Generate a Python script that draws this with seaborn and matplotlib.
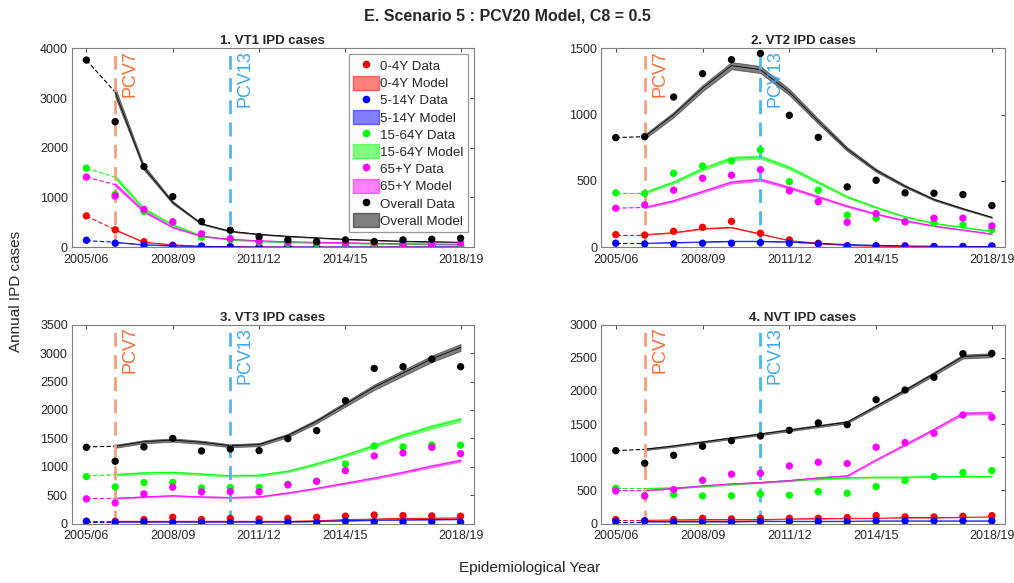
import numpy as np
import pandas as pd
import matplotlib
matplotlib.use("Agg")
from matplotlib import pyplot as plt
from matplotlib.patches import Patch
from matplotlib.lines import Line2D
import seaborn as sns

sns.set_style("white")
plt.rcParams['font.family'] = ['Liberation Sans', 'DejaVu Sans']

years = ['2005/06', '2006/07', '2007/08', '2008/09', '2009/10', '2010/11', '2011/12',
         '2012/13', '2013/14', '2014/15', '2015/16', '2016/17', '2017/18', '2018/19']
tick_years = ['2005/06', '2008/09', '2011/12', '2014/15', '2018/19']
groups = ['0-4Y', '5-14Y', '15-64Y', '65+Y', 'Overall']
colors = {'0-4Y': '#ff0000', '5-14Y': '#0000ff', '15-64Y': '#00ff00',
          '65+Y': '#ff00ff', 'Overall': '#000000'}
pcv7_year = '2006/07'
pcv13_year = '2010/11'

# 1. VT1
vt1_data = {
    '0-4Y': [630, 350, 110, 40, 20, 10, 5, 5, 5, 5, 5, 5, 5, 5],
    '5-14Y': [140, 80, 40, 30, 20, 10, 5, 5, 5, 5, 5, 5, 5, 5],
    '15-64Y': [1590, 1060, 720, 490, 200, 150, 100, 80, 70, 60, 60, 50, 50, 50],
    '65+Y': [1410, 1030, 760, 510, 270, 170, 120, 100, 90, 80, 80, 70, 70, 80],
    'Overall': [3765, 2526, 1621, 1018, 516, 342, 214, 147, 114, 147, 114, 147, 160, 180],
}
vt1_model = {
    '0-4Y': [630, 350, 100, 50, 20, 10, 5, 5, 5, 5, 5, 5, 5, 5],
    '5-14Y': [130, 100, 50, 30, 15, 10, 5, 5, 5, 5, 5, 5, 5, 5],
    '15-64Y': [1590, 1410, 770, 450, 230, 150, 120, 100, 90, 80, 70, 60, 55, 50],
    '65+Y': [1410, 1260, 720, 400, 220, 160, 130, 110, 100, 90, 80, 70, 65, 60],
    'Overall': [3765, 3120, 1600, 900, 470, 320, 260, 220, 190, 160, 140, 120, 110, 100],
}
# 2. VT2
vt2_data = {
    '0-4Y': [95, 92, 120, 150, 195, 105, 55, 30, 10, 10, 5, 5, 5, 5],
    '5-14Y': [30, 25, 25, 30, 30, 35, 30, 25, 10, 10, 10, 5, 5, 10],
    '15-64Y': [410, 405, 558, 613, 651, 734, 495, 430, 241, 219, 193, 181, 168, 131],
    '65+Y': [294, 319, 430, 520, 543, 585, 425, 344, 188, 254, 191, 219, 219, 161],
    'Overall': [827, 834, 1133, 1309, 1415, 1462, 995, 829, 455, 505, 410, 407, 397, 314],
}
vt2_model = {
    '0-4Y': [95, 95, 110, 140, 150, 100, 50, 30, 15, 10, 5, 5, 5, 3],
    '5-14Y': [30, 30, 35, 40, 45, 45, 40, 30, 20, 15, 10, 8, 5, 5],
    '15-64Y': [412, 412, 490, 590, 670, 680, 600, 490, 380, 300, 230, 180, 150, 120],
    '65+Y': [294, 300, 350, 420, 490, 510, 450, 380, 310, 250, 200, 160, 130, 100],
    'Overall': [827, 834, 1000, 1200, 1370, 1340, 1170, 950, 740, 580, 460, 360, 290, 225],
}
# 3. VT3
vt3_data = {
    '0-4Y': [40, 40, 70, 110, 70, 90, 80, 90, 110, 130, 150, 140, 135, 130],
    '5-14Y': [40, 20, 30, 20, 10, 20, 15, 20, 20, 40, 30, 30, 30, 25],
    '15-64Y': [827, 645, 721, 725, 627, 635, 635, 692, 744, 1049, 1366, 1350, 1383, 1380],
    '65+Y': [434, 363, 522, 639, 557, 560, 560, 680, 744, 932, 1190, 1243, 1342, 1231],
    'Overall': [1342, 1096, 1348, 1500, 1278, 1313, 1284, 1495, 1635, 2163, 2732, 2761, 2896, 2761],
}
vt3_model = {
    '0-4Y': [40, 40, 40, 40, 40, 40, 40, 40, 50, 70, 80, 90, 95, 100],
    '5-14Y': [30, 30, 30, 30, 30, 30, 30, 30, 40, 50, 60, 65, 70, 75],
    '15-64Y': [840, 860, 890, 900, 870, 840, 850, 920, 1050, 1200, 1370, 1550, 1700, 1830],
    '65+Y': [445, 445, 470, 490, 470, 460, 470, 540, 620, 710, 800, 900, 1010, 1110],
    'Overall': [1350, 1360, 1440, 1470, 1430, 1370, 1390, 1550, 1800, 2100, 2400, 2650, 2900, 3100],
}
# 4. NVT
nvt_data = {
    '0-4Y': [60, 40, 60, 80, 70, 80, 80, 80, 90, 120, 100, 100, 110, 120],
    '5-14Y': [30, 40, 20, 20, 20, 30, 30, 30, 30, 40, 40, 40, 40, 40],
    '15-64Y': [530, 420, 437, 417, 420, 447, 427, 482, 457, 558, 648, 709, 769, 799],
    '65+Y': [492, 417, 512, 653, 744, 759, 869, 925, 905, 1151, 1221, 1362, 1638, 1603],
    'Overall': [1100, 910, 1030, 1166, 1251, 1322, 1407, 1518, 1492, 1869, 2015, 2206, 2563, 2568],
}
nvt_model = {
    '0-4Y': [50, 50, 55, 60, 60, 60, 70, 75, 80, 80, 90, 90, 95, 100],
    '5-14Y': [30, 30, 30, 30, 30, 35, 35, 35, 35, 40, 40, 40, 40, 40],
    '15-64Y': [530, 530, 540, 560, 590, 620, 650, 670, 690, 700, 700, 710, 710, 710],
    '65+Y': [500, 500, 530, 570, 600, 620, 650, 690, 720, 960, 1190, 1420, 1660, 1670],
    'Overall': [1100, 1120, 1170, 1230, 1290, 1350, 1410, 1470, 1530, 1770, 2010, 2260, 2520, 2540],
}

panels = [
    ('1. VT1 IPD cases', vt1_data, vt1_model, 0.03, 4000, 1000),
    ('2. VT2 IPD cases', vt2_data, vt2_model, 0.02, 1500, 500),
    ('3. VT3 IPD cases', vt3_data, vt3_model, 0.02, 3500, 500),
    ('4. NVT IPD cases', nvt_data, nvt_model, 0.012, 3000, 500),
]

fig = plt.figure(figsize=(10.14, 5.83), dpi=100)
positions = [
    [0.071, 0.576, 0.396, 0.341],
    [0.593, 0.576, 0.398, 0.341],
    [0.071, 0.102, 0.396, 0.341],
    [0.593, 0.102, 0.398, 0.341],
]

xi = np.arange(len(years))
tick_idx = [years.index(y) for y in tick_years]
axcol = '#262626'

for pos, (title, data, model, spread, ymax, ystep) in zip(positions, panels):
    ax = fig.add_axes(pos)
    long_data = pd.DataFrame([
        {'x': i, 'cases': v, 'group': g}
        for g in groups for i, v in enumerate(data[g])
    ])
    long_model = pd.DataFrame([
        {'x': i, 'cases': v, 'group': g}
        for g in groups for i, v in enumerate(model[g])
    ])
    for g in groups:
        m = np.array(model[g], dtype=float)
        lo, hi = m * (1 - spread), m * (1 + spread)
        ax.fill_between(xi[1:], lo[1:], hi[1:], color=colors[g], alpha=0.5,
                        lw=0.6, edgecolor=colors[g], zorder=2)
        ax.plot(xi[:2], m[:2], color=colors[g], lw=0.8, ls=(0, (4, 2)), zorder=2)
    sns.lineplot(data=long_model[long_model.x >= 1], x='x', y='cases', hue='group',
                 palette=colors, lw=0.6, legend=False, ax=ax, zorder=2)
    ax.axvline(years.index(pcv7_year), color='#f5a07a', ls=(0, (5, 3)), lw=2, zorder=3)
    ax.axvline(years.index(pcv13_year), color='#4db8f0', ls=(0, (5, 3)), lw=2, zorder=3)
    ax.text(years.index(pcv7_year) + 0.22, ymax * 0.99, 'PCV7', rotation=90,
            va='top', ha='left', color='#ff6a30', fontsize=13, zorder=3)
    ax.text(years.index(pcv13_year) + 0.22, ymax * 0.99, 'PCV13', rotation=90,
            va='top', ha='left', color='#3aa8f0', fontsize=13, zorder=3)
    sns.scatterplot(data=long_data, x='x', y='cases', hue='group', palette=colors,
                    s=28, edgecolor='none', legend=False, ax=ax, zorder=4)

    ax.set_xlim(-0.5, 13.45)
    ax.set_ylim(0, ymax)
    ax.set_xticks(tick_idx)
    ax.set_xticklabels(tick_years)
    ax.set_yticks(np.arange(0, ymax + 1, ystep))
    ax.set_xlabel('')
    ax.set_ylabel('')
    ax.set_title(title, fontsize=9.5, fontweight='bold', pad=3)
    ax.tick_params(direction='in', length=3, width=0.6, colors=axcol,
                   labelsize=9, top=True, right=True)
    ax.tick_params(axis='x', pad=5)
    ax.tick_params(axis='y', pad=3)
    for sp in ax.spines.values():
        sp.set_color('#7f7f7f')
        sp.set_linewidth(0.8)
    ax.grid(False)

    if title.startswith('1.'):
        handles = []
        for g in groups:
            handles.append(Line2D([], [], marker='o', ls='none', color=colors[g],
                                  markersize=4.5, label=f'{g} Data'))
            handles.append(Patch(facecolor=colors[g], alpha=0.5, edgecolor=colors[g],
                                 label=f'{g} Model'))
        leg = ax.legend(handles=handles, loc='upper right', fontsize=9.6,
                        frameon=True, fancybox=False, edgecolor='#7f7f7f',
                        handlelength=1.9, handleheight=1.25, labelspacing=0.2,
                        handletextpad=0.1, borderpad=0.3, borderaxespad=0.45)
        leg.get_frame().set_linewidth(0.9)

fig.suptitle('E. Scenario 5 : PCV20 Model, C8 = 0.5', fontsize=11.5,
             fontweight='bold', y=0.985)
fig.text(0.016, 0.50, 'Annual IPD cases', rotation=90, va='center', ha='center',
         fontsize=11, color=axcol)
fig.text(0.522, 0.026, 'Epidemiological Year', va='center', ha='center',
         fontsize=11, color=axcol)

plt.savefig('out.png', dpi=100)
